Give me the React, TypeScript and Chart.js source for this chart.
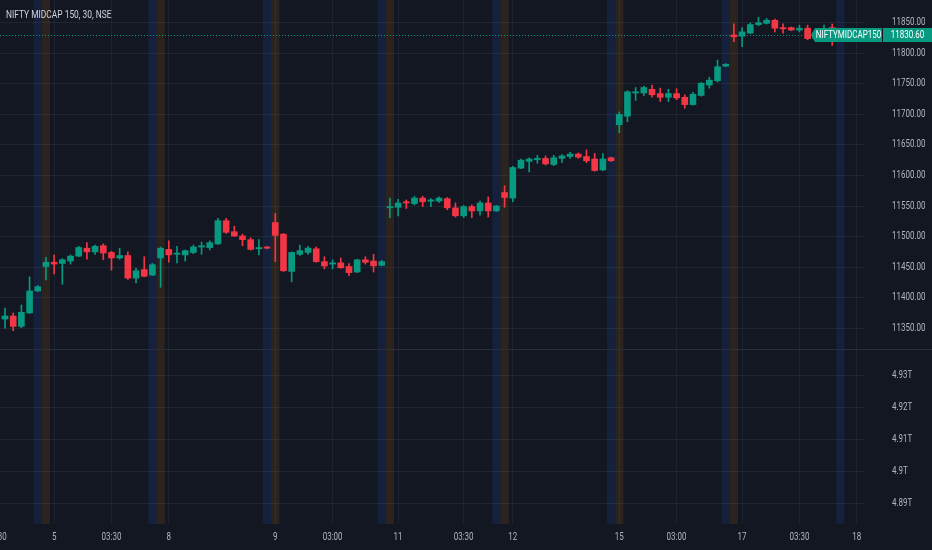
import { useEffect, useRef } from 'react';
import { Chart, registerables } from 'chart.js';

Chart.register(...registerables);

// ---------------- data ----------------
const symbolTitle = 'NIFTY MIDCAP 150, 30, NSE';
const symbolName = 'NIFTYMIDCAP150';

const opens = [
  11365, 11370, 11353, 11375, 11411,
  11451, 11458, 11456, 11460, 11468, 11481, 11475, 11485, 11474, 11465, 11469, 11432, 11446, 11437,
  11465, 11479, 11471, 11470, 11474, 11483, 11482, 11488, 11526, 11508, 11501, 11495, 11480, 11483,
  11523, 11504, 11443, 11471, 11474, 11480, 11459, 11455, 11457, 11451, 11442, 11462, 11460, 11453,
  11547, 11548, 11557, 11554, 11563, 11558, 11558, 11562, 11547, 11534, 11549, 11542, 11555, 11542,
  11572, 11563, 11612, 11623, 11626, 11628, 11618, 11628, 11631, 11635, 11631, 11627, 11609, 11629,
  11683, 11697, 11735, 11735, 11741, 11734, 11728, 11734, 11728, 11716, 11731, 11748, 11755, 11779,
  11830, 11828, 11833, 11847, 11849, 11854, 11842, 11842, 11838, 11841, 11824, 11828, 11842, 11826,
];
const highs = [
  11383, 11375, 11388, 11434, 11420,
  11466, 11470, 11464, 11470, 11484, 11490, 11486, 11488, 11476, 11481, 11475, 11448, 11467, 11456,
  11483, 11493, 11484, 11478, 11486, 11491, 11493, 11530, 11530, 11517, 11504, 11498, 11495, 11484,
  11538, 11505, 11475, 11486, 11484, 11483, 11467, 11462, 11465, 11456, 11463, 11467, 11471, 11461,
  11563, 11561, 11560, 11566, 11566, 11562, 11565, 11564, 11555, 11551, 11552, 11558, 11565, 11551,
  11583, 11615, 11627, 11629, 11633, 11632, 11633, 11634, 11638, 11637, 11642, 11636, 11636, 11630,
  11704, 11739, 11744, 11746, 11748, 11743, 11741, 11742, 11732, 11736, 11752, 11761, 11789, 11783,
  11848, 11842, 11850, 11859, 11857, 11856, 11848, 11843, 11846, 11846, 11835, 11846, 11848, 11836,
];
const lows = [
  11350, 11346, 11351, 11374, 11410,
  11429, 11439, 11422, 11455, 11467, 11463, 11471, 11462, 11445, 11463, 11430, 11424, 11434, 11436,
  11417, 11458, 11457, 11460, 11472, 11471, 11478, 11487, 11505, 11500, 11485, 11478, 11470, 11480,
  11459, 11443, 11426, 11469, 11471, 11458, 11447, 11447, 11448, 11436, 11441, 11455, 11442, 11452,
  11531, 11534, 11546, 11552, 11549, 11549, 11556, 11544, 11532, 11531, 11531, 11535, 11532, 11541,
  11548, 11557, 11611, 11606, 11620, 11617, 11616, 11621, 11628, 11628, 11621, 11607, 11608, 11623,
  11670, 11688, 11723, 11731, 11728, 11721, 11721, 11724, 11710, 11715, 11730, 11743, 11753, 11778,
  11819, 11811, 11832, 11845, 11848, 11835, 11833, 11837, 11835, 11822, 11820, 11825, 11813, 11824,
];
const closes = [
  11370, 11353, 11376, 11411, 11418,
  11458, 11455, 11462, 11468, 11482, 11475, 11484, 11473, 11465, 11469, 11432, 11444, 11435, 11454,
  11481, 11470, 11473, 11477, 11483, 11485, 11490, 11526, 11507, 11501, 11495, 11479, 11482, 11481,
  11502, 11444, 11474, 11477, 11481, 11459, 11452, 11457, 11449, 11441, 11462, 11458, 11452, 11459,
  11549, 11555, 11555, 11563, 11557, 11560, 11563, 11547, 11534, 11549, 11542, 11555, 11542, 11550,
  11564, 11613, 11625, 11627, 11628, 11619, 11629, 11632, 11635, 11630, 11624, 11608, 11627, 11624,
  11700, 11737, 11737, 11744, 11732, 11728, 11734, 11727, 11716, 11733, 11751, 11756, 11778, 11782,
  11827, 11835, 11847, 11850, 11854, 11841, 11840, 11838, 11841, 11824, 11830, 11840, 11832, 11830.6,
];

// time axis: bar index of each label and its text
const timeTickIndex = [-1, 6, 13, 20, 33, 40, 48, 56, 62, 75, 82, 90, 97, 104];
const timeTickLabels = ['03:30', '5', '03:30', '8', '9', '03:00', '11', '03:30', '12', '15', '03:00', '17', '03:30', '18'];

const priceTicks = [11350, 11400, 11450, 11500, 11550, 11600, 11650, 11700, 11750, 11800, 11850];
const lowerTicks = [4.89, 4.9, 4.91, 4.92, 4.93];

// session highlight bars (last bar of a session / first bar of a session)
const sessionEndBars = [4, 18, 32, 46, 60, 74, 88, 102];
const sessionStartBars = [5, 19, 33, 47, 61, 75, 89];

// ---------------- style ----------------
const BG = '#131722';
const UP = '#089981';
const DOWN = '#f23645';
const GRID = 'rgba(42,46,57,0.6)';
const TEXT = '#b2b5be';
const FONT = "Roboto, 'DejaVu Sans Condensed', sans-serif";
const TEXT_SCALE_X = 0.8; // the reference uses a narrow face; squeeze text horizontally

const X_MIN = -0.6105;
const X_MAX = 105.006;
const PRICE_MIN = 11316;
const PRICE_MAX = 11887.2;
const LOWER_MIN = 4.88375;
const LOWER_MAX = 4.9384;

export default function App() {
  const ref = useRef<HTMLCanvasElement | null>(null);

  useEffect(() => {
    document.body.style.margin = '0';
    document.body.style.background = BG;
    const canvas = ref.current;
    if (!canvas) return;

    // condensed text rendering on this canvas only
    const c2d = canvas.getContext('2d') as any;
    const protoFill = CanvasRenderingContext2D.prototype.fillText;
    c2d.fillText = function (text: string, x: number, y: number, maxWidth?: number) {
      this.save();
      this.translate(x, y);
      this.scale(TEXT_SCALE_X, 1);
      if (maxWidth === undefined) protoFill.call(this, text, 0, 0);
      else protoFill.call(this, text, 0, 0, maxWidth / TEXT_SCALE_X);
      this.restore();
    };

    const idx = closes.map((_, i) => i);
    const colors = idx.map((i) => (closes[i] >= opens[i] ? UP : DOWN));

    const panePlugin = {
      id: 'panes',
      beforeDraw(chart: any) {
        const { ctx, width, height } = chart;
        ctx.save();
        ctx.fillStyle = BG;
        ctx.fillRect(0, 0, width, height);
        ctx.restore();
      },
      beforeDatasetsDraw(chart: any) {
        const { ctx, chartArea } = chart;
        const xs = chart.scales.x;
        const w = xs.getPixelForValue(1) - xs.getPixelForValue(0);
        ctx.save();
        ctx.fillStyle = 'rgba(41,98,255,0.12)';
        sessionEndBars.forEach((k) => {
          const px = xs.getPixelForValue(k);
          ctx.fillRect(px - w / 2, chartArea.top, w, chartArea.bottom - chartArea.top);
        });
        ctx.fillStyle = 'rgba(255,152,0,0.10)';
        sessionStartBars.forEach((k) => {
          const px = xs.getPixelForValue(k);
          ctx.fillRect(px - w / 2, chartArea.top, w, chartArea.bottom - chartArea.top);
        });
        const last = closes[closes.length - 1];
        const ly = Math.round(chart.scales.y.getPixelForValue(last)) + 0.5;
        ctx.strokeStyle = UP;
        ctx.lineWidth = 1;
        ctx.setLineDash([1, 2]);
        ctx.beginPath();
        ctx.moveTo(chartArea.left, ly);
        ctx.lineTo(chartArea.right, ly);
        ctx.stroke();
        ctx.restore();
      },
      afterDraw(chart: any) {
        const { ctx, chartArea, width } = chart;
        const ys = chart.scales.y;
        ctx.save();
        ctx.strokeStyle = '#2a2e39';
        ctx.lineWidth = 1;
        ctx.beginPath();
        ctx.moveTo(0, Math.round(ys.bottom) + 0.5);
        ctx.lineTo(width, Math.round(ys.bottom) + 0.5);
        ctx.stroke();

        ctx.fillStyle = '#d1d4dc';
        ctx.font = `10.5px ${FONT}`;
        ctx.textAlign = 'left';
        ctx.textBaseline = 'middle';
        ctx.fillText(symbolTitle, 6, 15);

        const last = closes[closes.length - 1];
        const cy = Math.round(ys.getPixelForValue(last));
        const h = 14;
        const nx0 = chartArea.right - 50;
        const nx1 = chartArea.right + 17;
        ctx.font = `10px ${FONT}`;
        ctx.fillStyle = UP;
        ctx.beginPath();
        ctx.moveTo(nx0, cy - h / 2);
        ctx.lineTo(nx1, cy - h / 2);
        ctx.lineTo(nx1, cy + h / 2);
        ctx.lineTo(nx0, cy + h / 2);
        ctx.lineTo(nx0 - 4, cy);
        ctx.closePath();
        ctx.fill();
        ctx.fillRect(nx1 + 1, cy - h / 2, width - nx1 - 1, h);
        ctx.fillStyle = '#ffffff';
        ctx.textAlign = 'center';
        ctx.fillText(symbolName, (nx0 + nx1) / 2, cy + 0.5);
        ctx.fillText(last.toFixed(2), (nx1 + 1 + width) / 2, cy + 0.5);
        ctx.restore();
      },
    };

    const chart = new Chart(canvas, {
      type: 'bar',
      data: {
        datasets: [
          {
            label: 'body',
            data: idx.map((i) => ({ x: i, y: [opens[i], closes[i]] })) as any,
            backgroundColor: colors,
            borderWidth: 0,
            barThickness: 6,
            minBarLength: 1,
            grouped: false,
            xAxisID: 'x',
            yAxisID: 'y',
          },
          {
            label: 'wick',
            data: idx.map((i) => ({ x: i, y: [lows[i], highs[i]] })) as any,
            backgroundColor: colors,
            borderWidth: 0,
            barThickness: 1,
            grouped: false,
            xAxisID: 'x',
            yAxisID: 'y',
          },
          {
            label: 'lower',
            data: [] as any,
            xAxisID: 'x',
            yAxisID: 'y2',
          },
        ],
      },
      options: {
        animation: false,
        responsive: true,
        maintainAspectRatio: false,
        layout: { padding: 0, autoPadding: false },
        plugins: {
          legend: { display: false },
          tooltip: { enabled: false },
        },
        scales: {
          x: {
            type: 'linear',
            position: 'bottom',
            min: X_MIN,
            max: X_MAX,
            offset: false,
            grid: { color: 'rgba(42,46,57,0.5)', drawTicks: false, offset: false },
            border: { display: false },
            ticks: {
              color: TEXT,
              font: { family: FONT, size: 10 },
              padding: 7,
              autoSkip: false,
              maxRotation: 0,
              callback: (_v: any, i: number) => timeTickLabels[i],
            },
            afterBuildTicks: (s: any) => {
              s.ticks = timeTickIndex.map((v) => ({ value: v }));
            },
            afterFit: (s: any) => {
              s.height = 26;
              s.paddingLeft = 0;
              s.paddingRight = 0;
            },
          },
          y: {
            type: 'linear',
            position: 'right',
            stack: 'pane',
            stackWeight: 349,
            min: PRICE_MIN,
            max: PRICE_MAX,
            beginAtZero: false,
            grid: { color: GRID, drawTicks: false },
            border: { display: false },
            ticks: {
              color: TEXT,
              font: { family: FONT, size: 10 },
              padding: 27,
              callback: (v: any) => Number(v).toFixed(2),
            },
            afterBuildTicks: (s: any) => {
              s.ticks = priceTicks.map((v) => ({ value: v }));
            },
            afterFit: (s: any) => {
              s.width = 67;
              s.paddingTop = 0;
              s.paddingBottom = 0;
            },
          },
          y2: {
            type: 'linear',
            position: 'right',
            stack: 'pane',
            stackWeight: 175,
            min: LOWER_MIN,
            max: LOWER_MAX,
            beginAtZero: false,
            grid: { color: GRID, drawTicks: false },
            border: { display: false },
            ticks: {
              color: TEXT,
              font: { family: FONT, size: 10 },
              padding: 27,
              callback: (v: any) => `${Number(Number(v).toFixed(2))}T`,
            },
            afterBuildTicks: (s: any) => {
              s.ticks = lowerTicks.map((v) => ({ value: v }));
            },
            afterFit: (s: any) => {
              s.width = 67;
              s.paddingTop = 0;
              s.paddingBottom = 0;
            },
          },
        } as any,
      },
      plugins: [panePlugin],
    });

    return () => {
      chart.destroy();
      delete c2d.fillText;
    };
  }, []);

  return (
    <div style={{ position: 'fixed', left: 0, top: 0, width: 932, height: 550, background: BG }}>
      <canvas ref={ref} />
    </div>
  );
}
